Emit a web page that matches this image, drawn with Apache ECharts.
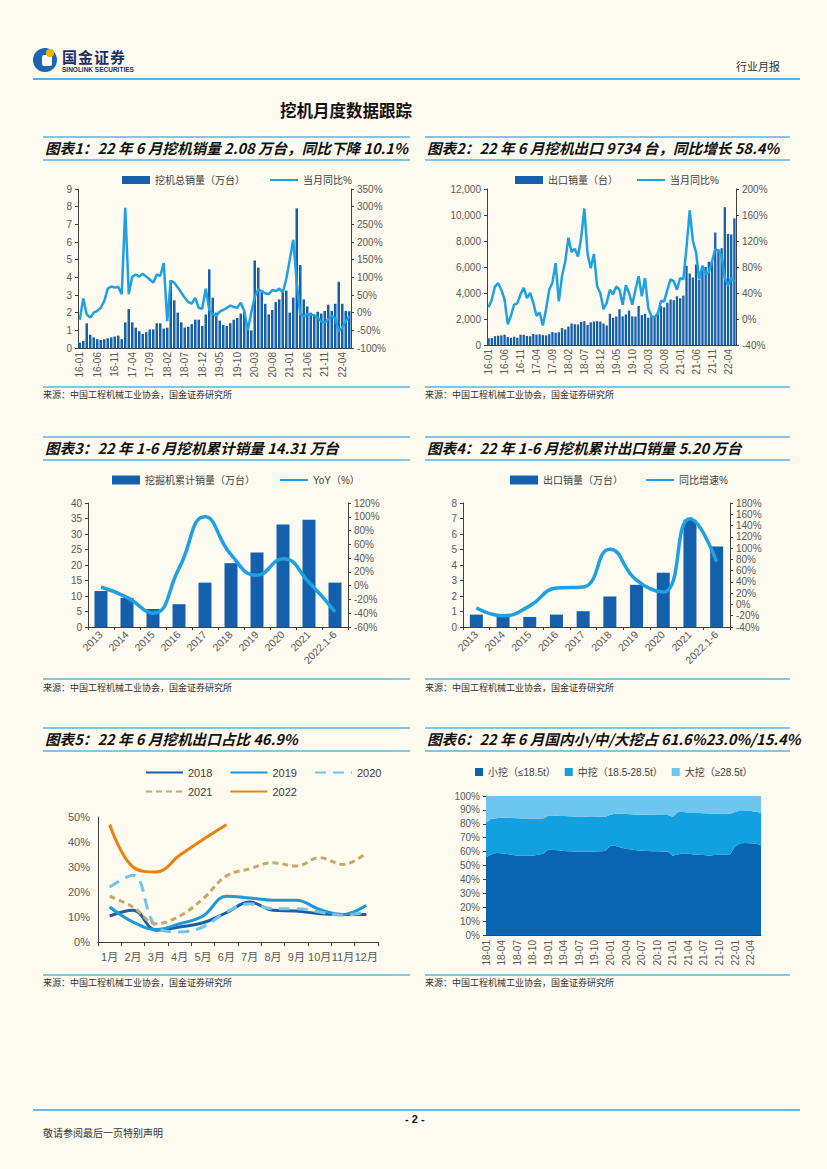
<!DOCTYPE html>
<html><head><meta charset="utf-8">
<script src="https://cdn.jsdelivr.net/npm/echarts@6/dist/echarts.min.js"></script>
<style>
body{margin:0;background:#fdfaf0;}
#page{position:relative;width:827px;height:1169px;background:#fdfaf0;overflow:hidden;font-family:"Noto Sans CJK SC",sans-serif;}
.hl{position:absolute;height:2px;background:#82c5e5;}
.ttl{position:absolute;font-size:14.6px;line-height:16px;font-weight:bold;font-style:italic;color:#111;white-space:nowrap;}
.src{position:absolute;font-size:9px;line-height:11px;color:#333;white-space:nowrap;}
.ch{position:absolute;}
.t{position:absolute;white-space:nowrap;line-height:1;}
</style></head>
<body><div id="page">
<!-- header -->
<div class="t" style="left:33px;top:48px;width:24px;height:24px;border-radius:50%;background:#1a66b3;"></div>
<div class="t" style="left:42px;top:55px;width:10px;height:11px;border-radius:2px;background:#fdfaf0;"></div>
<div class="t" style="left:46px;top:49px;width:8px;height:8px;border-radius:50%;background:#f0b400;"></div>
<div class="t" style="left:62px;top:49px;font-size:15px;font-weight:bold;color:#1c2f5e;letter-spacing:1px;">国金证券</div>
<div class="t" style="left:62px;top:67px;font-size:6.5px;font-weight:bold;color:#1c2f5e;font-family:'Liberation Sans';">SINOLINK SECURITIES</div>
<div class="t" style="left:736px;top:61px;font-size:11px;color:#333;">行业月报</div>
<div class="hl" style="left:33px;top:78px;width:767px;background:#5aaedb;"></div>
<div class="t" style="left:280px;top:102px;font-size:16.5px;font-weight:bold;color:#111;">挖机月度数据跟踪</div>

<!-- row 1 -->
<div class="hl" style="left:43px;top:136px;width:367px;"></div>
<div class="hl" style="left:43px;top:159px;width:367px;"></div>
<div class="hl" style="left:425px;top:136px;width:365px;"></div>
<div class="hl" style="left:425px;top:159px;width:365px;"></div>
<div class="ttl" style="left:45px;top:140px;">图表1：22 年 6 月挖机销量 2.08 万台，同比下降 10.1%</div>
<div class="ttl" style="left:427px;top:140px;">图表2：22 年 6 月挖机出口 9734 台，同比增长 58.4%</div>
<div class="ch" id="c1" style="left:43px;top:168px;width:367px;height:217px;"></div>
<div class="ch" id="c2" style="left:425px;top:168px;width:365px;height:217px;"></div>
<div class="hl" style="left:43px;top:386px;width:367px;"></div>
<div class="hl" style="left:425px;top:386px;width:365px;"></div>
<div class="src" style="left:43px;top:389px;">来源：中国工程机械工业协会，国金证券研究所</div>
<div class="src" style="left:425px;top:389px;">来源：中国工程机械工业协会，国金证券研究所</div>

<!-- row 2 -->
<div class="hl" style="left:43px;top:436px;width:367px;"></div>
<div class="hl" style="left:43px;top:459px;width:367px;"></div>
<div class="hl" style="left:425px;top:436px;width:365px;"></div>
<div class="hl" style="left:425px;top:459px;width:365px;"></div>
<div class="ttl" style="left:45px;top:440px;">图表3：22 年 1-6 月挖机累计销量 14.31 万台</div>
<div class="ttl" style="left:427px;top:440px;">图表4：22 年 1-6 月挖机累计出口销量 5.20 万台</div>
<div class="ch" id="c3" style="left:43px;top:465px;width:367px;height:212px;"></div>
<div class="ch" id="c4" style="left:425px;top:465px;width:365px;height:212px;"></div>
<div class="hl" style="left:43px;top:678px;width:367px;"></div>
<div class="hl" style="left:425px;top:678px;width:365px;"></div>
<div class="src" style="left:43px;top:682px;">来源：中国工程机械工业协会，国金证券研究所</div>
<div class="src" style="left:425px;top:682px;">来源：中国工程机械工业协会，国金证券研究所</div>

<!-- row 3 -->
<div class="hl" style="left:43px;top:727px;width:367px;"></div>
<div class="hl" style="left:43px;top:750px;width:367px;"></div>
<div class="hl" style="left:425px;top:727px;width:365px;"></div>
<div class="hl" style="left:425px;top:750px;width:365px;"></div>
<div class="ttl" style="left:45px;top:731px;">图表5：22 年 6 月挖机出口占比 46.9%</div>
<div class="ttl" style="left:427px;top:731px;">图表6：22 年 6 月国内小/中/大挖占 61.6%23.0%/15.4%</div>
<div class="ch" id="c5" style="left:43px;top:755px;width:367px;height:218px;"></div>
<div class="ch" id="c6" style="left:425px;top:755px;width:365px;height:218px;"></div>
<div class="hl" style="left:43px;top:974px;width:367px;"></div>
<div class="hl" style="left:425px;top:974px;width:365px;"></div>
<div class="src" style="left:43px;top:977px;">来源：中国工程机械工业协会，国金证券研究所</div>
<div class="src" style="left:425px;top:977px;">来源：中国工程机械工业协会，国金证券研究所</div>

<!-- footer -->
<div class="hl" style="left:33px;top:1109px;width:767px;background:#6fb7dc;"></div>
<div class="t" style="left:405px;top:1114px;font-size:11px;font-weight:bold;color:#111;font-family:'Liberation Sans';">- 2 -</div>
<div class="t" style="left:43px;top:1128px;font-size:10px;color:#333;">敬请参阅最后一页特别声明</div>
</div>
<script>
// ---------- data ----------
function makeMonths(y0, m0, n){const out=[];let y=y0,m=m0;for(let i=0;i<n;i++){out.push(y+'-'+(m<10?'0'+m:m));m++;if(m>12){m=1;y++;}}return out;}
const monthsA = makeMonths(16,1,78);   // 16-01 .. 22-06
const monthsB = makeMonths(18,1,54);   // 18-01 .. 22-06

// chart 1: total sales (万台) & YoY %
const sales1 = [
 0.3,0.4,1.4,0.75,0.6,0.5,0.45,0.5,0.55,0.6,0.65,0.7,
 0.5,1.45,2.2,1.45,1.15,0.95,0.8,0.9,1.05,1.05,1.4,1.4,
 1.1,1.15,3.85,2.7,2.0,1.45,1.15,1.2,1.35,1.6,1.6,1.25,
 1.9,4.45,2.85,2.0,1.55,1.3,1.25,1.4,1.6,1.7,1.95,2.05,
 1.05,1.0,4.95,4.55,3.15,2.5,1.9,2.15,2.6,2.75,3.15,3.25,
 2.0,2.85,7.9,4.7,2.75,2.35,2.0,1.9,2.05,1.95,2.1,2.45,
 2.1,2.5,3.75,2.5,2.1,2.08];
const yoy1 = [
 -20,40,-5,-14,0,5,14,33,68,74,71,73,
 52,297,52,102,108,102,110,102,94,85,108,104,
 140,-24,90,85,71,57,42,30,26,42,14,11,
 68,9,-5,-9,3,8,13,20,16,14,28,5,
 -50,0,45,66,61,55,52,64,61,68,57,95,
 150,206,85,-5,-10,-5,-5,-8,-14,-25,-28,-19,
 -10,-15,-53,-42,-24,-10.1];

// chart 2: exports (台) & YoY %
const export2 = [
 520,530,680,720,740,800,620,560,640,560,790,790,
 700,680,850,800,820,760,740,830,1000,940,980,1300,
 1200,1420,1650,1600,1580,1780,1830,1530,1750,1800,1830,1800,
 1650,1500,2400,2100,2200,2750,2200,2350,2650,2200,2200,3000,
 2300,2400,2100,2200,2150,2500,3000,2900,3250,3500,3450,3750,
 3600,3800,6100,5500,5200,6200,5000,5800,6000,6400,6450,8650,
 7350,7450,10600,8550,8500,9734];
const yoy2 = [
 18,30,50,55,45,30,-8,5,22,24,38,48,
 32,40,25,5,10,-10,15,45,56,86,27,66,
 88,125,103,108,96,125,170,100,78,100,50,40,
 15,25,45,38,50,45,22,52,40,22,45,66,
 35,63,17,4,3,8,28,27,45,61,58,45,
 63,61,110,167,120,102,61,82,69,72,89,107,
 105,97,63,52,63,58.4];

// chart 3 / 4: annual
const years = ['2013','2014','2015','2016','2017','2018','2019','2020','2021','2022.1-6'];
const cumSales3 = [11.6,9.4,5.8,7.35,14.3,20.6,24.0,33.1,34.6,14.31];
const yoy3 = [-2,-17,-40,25,100,45,15,39,5,-38];
const cumExport4 = [0.8,0.75,0.65,0.8,1.02,1.97,2.72,3.5,6.92,5.2];
const yoy4 = [-6,-20,-2.5,29,31,98,43,22,152,76];

// chart 5: export share by month (%)
const monthNames = ['1月','2月','3月','4月','5月','6月','7月','8月','9月','10月','11月','12月'];
const share2018 = [10.4,12.7,4.7,6,7.7,11.7,16,12.7,12.4,11.3,11,11];
const share2019 = [14,8,5,7.3,10.4,18.3,17.6,16.7,16.7,13,11,14.7];
const share2020 = [22,26.7,6,4,6,12,15.3,13.3,13.3,12,10.7,12];
const share2021 = [18.3,14,7.3,10.4,17.3,26.4,29.3,31.7,30.4,33.7,31,35.6];
const share2022 = [47,30,28,34.7,41,46.9];

// chart 6: domestic mix (%)
const small6 = [
 56,58,59,58.8,58.3,57.8,57,57,57,57,57.8,58.5,
 61.6,61.2,60.9,60.5,60.2,60,60,60,60,60,60.2,60.5,
 64.3,64,63,62.1,61.5,61,60.7,60.5,60.2,60.2,60,60,
 57,58,58.8,58.5,58,57.8,57.5,57,57.5,57.8,58,58,
 63.5,66,66.2,66,65.7,64.7];
const mid6 = [
 24.8,25.5,25,25.6,26.1,26.4,27,26.9,26.8,26.7,26,25.4,
 24.3,24.7,24.8,25.1,25.2,25.2,25.1,25,24.9,24.9,24.8,24.6,
 22.2,23.5,24.3,24.9,25.3,25.6,25.9,26.1,26.3,26.2,26.3,26.3,
 28.1,30.5,29.6,29.7,30,30,30.1,30.5,29.9,29.5,29.3,29.3,
 25,23.7,23.3,23.2,23,23.3];
const large6 = [
 19.2,16.5,16,15.6,15.6,15.8,16,16.1,16.2,16.3,16.2,16.1,
 14.1,14.1,14.3,14.4,14.6,14.8,14.9,15,15.1,15.1,15,14.9,
 13.5,12.5,12.7,13,13.2,13.4,13.4,13.4,13.5,13.6,13.7,13.7,
 14.9,11.5,11.6,11.8,12,12.2,12.4,12.5,12.6,12.7,12.7,12.7,
 11.5,10.3,10.5,10.8,11.3,12];

// ---------- styles ----------
const FONT = "'Liberation Sans','Noto Sans CJK SC',sans-serif";
const AX = '#404040';
const LBL = {color:'#595959', fontSize:10, fontFamily:FONT};
const LEG = {color:'#404040', fontSize:10, fontFamily:FONT};
const BAR = '#1560ac';
const LINE = '#1ea0e2';
const NOSYM = {opacity:0, borderWidth:0};
function yAx(o){
  return Object.assign({type:'value', axisLine:{show:true, lineStyle:{color:AX}}, axisTick:{show:true, length:3, lineStyle:{color:AX}},
    splitLine:{show:false}, axisLabel:Object.assign({margin:6}, LBL)}, o);
}
function mk(id, opt){
  const c = echarts.init(document.getElementById(id), null, {renderer:'svg'});
  opt.animation = false;
  opt.backgroundColor = 'transparent';
  opt.textStyle = {fontFamily:FONT};
  c.setOption(opt);
}

// chart 1
mk('c1', {
  legend:{left:74, top:2, itemWidth:28, itemHeight:8, itemGap:24, textStyle:LEG,
    data:[{name:'挖机总销量（万台）', icon:'rect'}, {name:'当月同比%', itemStyle:NOSYM}]},
  grid:{left:35, right:59, top:21, bottom:37, outerBoundsMode:'none'},
  xAxis:{type:'category', data:monthsA, axisLabel:Object.assign({interval:4, rotate:90, margin:4}, LBL),
    axisTick:{show:false}, axisLine:{lineStyle:{color:AX}}},
  yAxis:[yAx({min:0, max:9, interval:1}),
         yAx({min:-100, max:350, interval:50, position:'right', axisLabel:Object.assign({formatter:'{value}%', margin:6}, LBL)})],
  series:[
    {type:'bar', name:'挖机总销量（万台）', data:sales1, barWidth:'72%', itemStyle:{color:BAR}},
    {type:'line', name:'当月同比%', yAxisIndex:1, data:yoy1, symbol:'none', lineStyle:{width:2.5, color:LINE}, itemStyle:{color:LINE}}
  ]
});

// chart 2
mk('c2', {
  legend:{left:85, top:2, itemWidth:28, itemHeight:8, itemGap:18, textStyle:LEG,
    data:[{name:'出口销量（台）', icon:'rect'}, {name:'当月同比%', itemStyle:NOSYM}]},
  grid:{left:62, right:54, top:21, bottom:40, outerBoundsMode:'none'},
  xAxis:{type:'category', data:monthsA, axisLabel:Object.assign({interval:4, rotate:90, margin:4}, LBL),
    axisTick:{show:false}, axisLine:{lineStyle:{color:AX}}},
  yAxis:[yAx({min:0, max:12000, interval:2000, axisLabel:Object.assign({margin:6, formatter:v=>v.toLocaleString('en-US')}, LBL)}),
         yAx({min:-40, max:200, interval:40, position:'right', axisLabel:Object.assign({formatter:'{value}%', margin:6}, LBL)})],
  series:[
    {type:'bar', name:'出口销量（台）', data:export2, barWidth:'72%', itemStyle:{color:BAR}},
    {type:'line', name:'当月同比%', yAxisIndex:1, data:yoy2, symbol:'none', lineStyle:{width:2.5, color:LINE}, itemStyle:{color:LINE}}
  ]
});

// chart 3
mk('c3', {
  legend:{left:64, top:5, itemWidth:28, itemHeight:9, itemGap:24, textStyle:LEG,
    data:[{name:'挖掘机累计销量（万台）', icon:'rect'}, {name:'YoY（%）', itemStyle:NOSYM}]},
  grid:{left:45, right:62, top:38, bottom:50, outerBoundsMode:'none'},
  xAxis:{type:'category', data:years, axisLabel:Object.assign({interval:0, rotate:45, margin:6}, LBL, {fontSize:10.5}),
    axisTick:{show:true, length:3, lineStyle:{color:AX}}, axisLine:{lineStyle:{color:AX}}},
  yAxis:[yAx({min:0, max:40, interval:5}),
         yAx({min:-60, max:120, interval:20, position:'right', axisLabel:Object.assign({formatter:'{value}%', margin:6}, LBL)})],
  series:[
    {type:'bar', name:'挖掘机累计销量（万台）', data:cumSales3, barWidth:13, itemStyle:{color:BAR}},
    {type:'line', name:'YoY（%）', yAxisIndex:1, data:yoy3, smooth:true, symbol:'none', lineStyle:{width:3.5, color:LINE}, itemStyle:{color:LINE}}
  ]
});

// chart 4
mk('c4', {
  legend:{left:80, top:5, itemWidth:28, itemHeight:9, itemGap:22, textStyle:LEG,
    data:[{name:'出口销量（万台）', icon:'rect'}, {name:'同比增速%', itemStyle:NOSYM}]},
  grid:{left:38, right:60, top:38, bottom:50, outerBoundsMode:'none'},
  xAxis:{type:'category', data:years, axisLabel:Object.assign({interval:0, rotate:45, margin:6}, LBL, {fontSize:10.5}),
    axisTick:{show:true, length:3, lineStyle:{color:AX}}, axisLine:{lineStyle:{color:AX}}},
  yAxis:[yAx({min:0, max:8, interval:1}),
         yAx({min:-40, max:180, interval:20, position:'right', axisLabel:Object.assign({formatter:'{value}%', margin:6}, LBL)})],
  series:[
    {type:'bar', name:'出口销量（万台）', data:cumExport4, barWidth:13, itemStyle:{color:BAR}},
    {type:'line', name:'同比增速%', yAxisIndex:1, data:yoy4, smooth:true, symbol:'none', lineStyle:{width:3.5, color:LINE}, itemStyle:{color:LINE}}
  ]
});

// chart 5
const C18='#1b5ea3', C19='#1a9ad6', C20='#72c3ea', C21='#c6a86c', C22='#e8820c';
function ln(name, data, color, type){
  return {type:'line', name, data, smooth:0.4, symbol:'none', lineStyle:{width:3, color, type:type||'solid'}, itemStyle:{color}};
}
const LEG5 = Object.assign({}, LEG, {fontSize:11});
mk('c5', {
  legend:[
    {left:97, top:7, itemWidth:37, itemHeight:10, itemGap:17, textStyle:LEG5, itemStyle:NOSYM, data:['2018','2019','2020']},
    {left:97, top:26, itemWidth:37, itemHeight:10, itemGap:17, textStyle:LEG5, itemStyle:NOSYM, data:['2021','2022']}
  ],
  grid:{left:55, right:32, top:62, bottom:31, outerBoundsMode:'none'},
  xAxis:{type:'category', data:monthNames, axisLabel:Object.assign({}, LBL, {fontSize:11, interval:0, margin:9}),
    axisTick:{show:true, length:4, lineStyle:{color:AX}}, axisLine:{lineStyle:{color:AX}}},
  yAxis:yAx({min:0, max:50, interval:10, axisTick:{show:false}, axisLabel:Object.assign({}, LBL, {fontSize:11, formatter:'{value}%', margin:8})}),
  series:[
    ln('2018', share2018, C18),
    ln('2019', share2019, C19),
    ln('2020', share2020, C20, [11,7]),
    ln('2021', share2021, C21, [6,4]),
    ln('2022', share2022, C22)
  ]
});

// chart 6
const S6='#0865b1', M6='#12a0e0', L6='#6cc6f0';
function ar(name, data, color){
  return {type:'line', name, data, stack:'mix', symbol:'none', lineStyle:{width:0}, areaStyle:{color, opacity:1}, itemStyle:{color}};
}
mk('c6', {
  legend:{left:45, top:7, itemWidth:8, itemHeight:8, itemGap:9, textStyle:LEG, icon:'rect',
    data:['小挖（≤18.5t）','中挖（18.5-28.5t）','大挖（≥28.5t）']},
  grid:{left:61, right:29, top:41, bottom:38, outerBoundsMode:'none'},
  xAxis:{type:'category', boundaryGap:false, data:monthsB, axisLabel:Object.assign({interval:2, rotate:90, margin:5}, LBL),
    axisTick:{show:false}, axisLine:{lineStyle:{color:AX}}},
  yAxis:yAx({min:0, max:100, interval:10, axisLabel:Object.assign({formatter:'{value}%', margin:6}, LBL)}),
  series:[
    ar('小挖（≤18.5t）', small6, S6),
    ar('中挖（18.5-28.5t）', mid6, M6),
    ar('大挖（≥28.5t）', large6, L6)
  ]
});
</script>
</body></html>
